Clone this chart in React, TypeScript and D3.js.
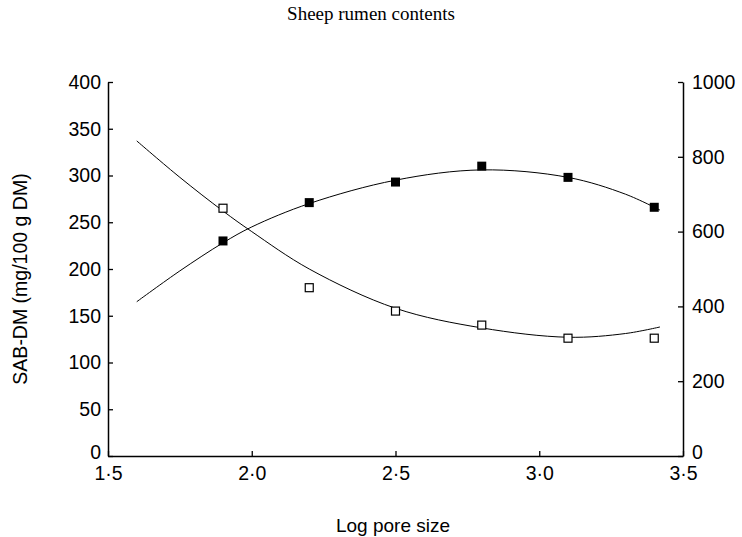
import React, { useEffect, useRef } from "react";
import * as d3 from "d3";

// observed points (left axis units)
const poreX = [1.9, 2.2, 2.5, 2.8, 3.1, 3.4];
const filledVals = [230, 271, 293, 310, 298, 266];
const openVals = [265, 180, 155, 140, 126, 126];

// fitted curves
const curveX = [1.6, 1.75, 1.9, 2.0, 2.2, 2.5, 2.8, 3.1, 3.3, 3.42];
const filledCurve = [165, 198, 228, 245, 270, 295, 306, 298, 280, 263];
const openCurve = [337, 298, 262, 240, 200, 158, 137, 127, 131, 138];

const xTicks = [1.5, 2.0, 2.5, 3.0, 3.5];
const leftTicks = [0, 50, 100, 150, 200, 250, 300, 350, 400];
const rightTicks = [0, 200, 400, 600, 800, 1000];

const App = () => {
  const svgRef = useRef<SVGSVGElement>(null);

  useEffect(() => {
    const svg = d3.select(svgRef.current);
    svg.selectAll("*").remove();

    const left = 108, right = 683, top = 82, bottom = 456;
    const font = "'Liberation Sans', Arial, sans-serif";

    const x = d3.scaleLinear().domain([1.5, 3.5]).range([left, right]);
    const yL = d3.scaleLinear().domain([0, 400]).range([bottom, top]);
    const yR = d3.scaleLinear().domain([0, 1000]).range([bottom, top]);

    const fmt = (d: number) => d.toFixed(1).replace(".", "\u00b7");

    // axes, ticks pointing inward
    const xAxis = svg
      .append("g")
      .attr("transform", `translate(0,${bottom})`)
      .call(d3.axisBottom(x).tickValues(xTicks).tickFormat(fmt as any).tickSizeInner(-5).tickSizeOuter(0).tickPadding(10));
    const lAxis = svg
      .append("g")
      .attr("transform", `translate(${left},0)`)
      .call(d3.axisLeft(yL).tickValues(leftTicks).tickSizeInner(-5).tickSizeOuter(0).tickPadding(7));
    const rAxis = svg
      .append("g")
      .attr("transform", `translate(${right},0)`)
      .call(d3.axisRight(yR).tickValues(rightTicks).tickFormat(d3.format("d") as any).tickSizeInner(-5).tickSizeOuter(0).tickPadding(9));

    [xAxis, lAxis, rAxis].forEach(g => {
      g.attr("font-size", null).attr("font-family", null);
      g.select(".domain").attr("stroke", "#000").attr("stroke-width", 1.5);
      g.selectAll(".tick line").attr("stroke", "#000").attr("stroke-width", 1.3);
      g.selectAll(".tick text")
        .attr("fill", "#000")
        .style("font-family", font)
        .style("font-size", "19.5px");
    });
    // the two "0" labels sit just above the x labels
    [lAxis, rAxis].forEach(g =>
      g.selectAll(".tick text").filter((d: any) => d === 0).attr("dy", "0.12em")
    );

    // curves
    const line = d3
      .line<number>()
      .x((_, i) => x(curveX[i]))
      .y(d => yL(d))
      .curve(d3.curveCatmullRom);

    [filledCurve, openCurve].forEach(c => {
      svg
        .append("path")
        .datum(c)
        .attr("fill", "none")
        .attr("stroke", "#000")
        .attr("stroke-width", 1)
        .attr("d", line);
    });

    const s = 9;
    svg
      .selectAll(".filled")
      .data(filledVals)
      .enter()
      .append("rect")
      .attr("x", (_, i) => x(poreX[i]) - s / 2)
      .attr("y", d => yL(d) - s / 2)
      .attr("width", s)
      .attr("height", s)
      .attr("fill", "#000");

    svg
      .selectAll(".open")
      .data(openVals)
      .enter()
      .append("rect")
      .attr("x", (_, i) => x(poreX[i]) - (s - 1) / 2)
      .attr("y", d => yL(d) - (s - 1) / 2)
      .attr("width", s - 1)
      .attr("height", s - 1)
      .attr("fill", "#fff")
      .attr("stroke", "#000")
      .attr("stroke-width", 1.2);

    // labels
    svg
      .append("text")
      .attr("x", 371)
      .attr("y", 20)
      .attr("text-anchor", "middle")
      .style("font-family", "'Liberation Serif', 'Times New Roman', serif")
      .style("font-size", "19px")
      .text("Sheep rumen contents");

    svg
      .append("text")
      .attr("transform", `translate(27,${(top + bottom) / 2 + 10}) rotate(-90)`)
      .attr("text-anchor", "middle")
      .style("font-family", font)
      .style("font-size", "19.5px")
      .text("SAB-DM (mg/100 g DM)");

    svg
      .append("text")
      .attr("x", 393)
      .attr("y", 532)
      .attr("text-anchor", "middle")
      .style("font-family", font)
      .style("font-size", "19px")
      .text("Log pore size");
  }, []);

  return (
    <svg
      ref={svgRef}
      width={742}
      height={537}
      style={{ position: "absolute", left: 0, top: 0, background: "#fff" }}
    />
  );
};

export default App;
